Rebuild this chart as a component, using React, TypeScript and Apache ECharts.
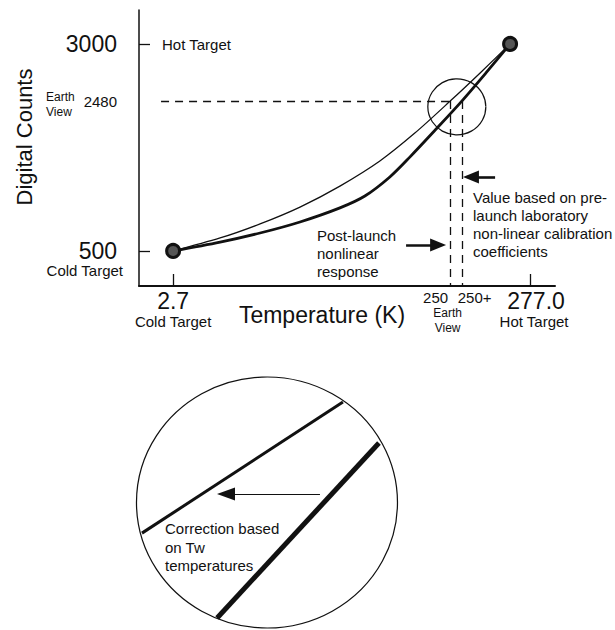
import React, { useEffect, useRef } from 'react';
import * as echarts from 'echarts';

const FONT = '"Liberation Sans", Arial, Helvetica, sans-serif';
const INK = '#111';

// Schematic diagram: both axes are in layout units (0–100 along each axis);
// the tick labels below give the physical meaning of each marked position.
const xTickPositions = [8.2, 74.9, 77.8, 94.0];
const xTickLabels = ['2.7', '250', '250+', '277.0'];
const xTickNotes = [['Cold Target'], ['Earth', 'View'], [], ['Hot Target']];
const xTickMarks = [8.2, 94.0];

const yTickPositions = [12.7, 67.0, 87.7];
const yTickLabels = ['500', '2480', '3000'];
const yTickMarks = [12.7, 87.7];

// Post-launch nonlinear response (thin curve)
const postLaunchCurve = [
  [8.2, 12.7], [19.5, 17.4], [29.1, 22.5], [38.7, 28.6], [48.3, 36.2],
  [57.9, 45.3], [66.3, 55.4], [74.8, 67.0], [82.0, 77.2], [89.2, 87.7],
];
// Pre-launch laboratory non-linear calibration (thick curve)
const preLaunchCurve = [
  [8.2, 12.7], [19.5, 15.9], [29.1, 19.2], [38.7, 23.2], [48.3, 28.3], [54.3, 32.6],
  [60.3, 39.5], [65.1, 46.7], [71.2, 56.5], [77.6, 67.0], [83.4, 77.2], [89.2, 87.7],
];
const targetPoints = [[8.2, 12.7], [89.2, 87.7]];
const magnifierPoint = [[76.4, 64.9]];

const earthViewLine = [[5.3, 67.0], [74.9, 67.0]];
const earthViewDrop = [[74.9, 67.0], [74.9, 0]];
const preLaunchDrop = [[77.8, 67.0], [77.8, 0]];
const postArrow = [[64.2, 14.9], [71.9, 14.9]];
const preArrow = [[85.6, 39.5], [79.8, 39.5]];

// Magnified inset (its own 0–100 layout units)
const insetPostLaunch = [[1.9, 37.8], [78.9, 90.0]];
const insetPreLaunch = [[30.7, 4.0], [92.7, 73.7]];
const insetCorrection = [[70.1, 53.4], [34.1, 53.4]];
const insetCenter = [[49.8, 50.0]];

const findIdx = (arr: number[], v: number) => arr.findIndex((a) => Math.abs(a - v) < 1e-6);

const xLabelStyles = [
  { num: 'big', note: 'note' },
  { num: 'midL', note: 'noteL' },
  { num: 'midR', note: 'noteL' },
  { num: 'bigR', note: 'noteR' },
];

export default function App() {
  const ref = useRef<HTMLDivElement>(null);
  useEffect(() => {
    if (!ref.current) return;
    const chart = echarts.init(ref.current, undefined, { renderer: 'svg' });
    const arrowLine = (pts: number[][], width: number, head: number[]) => ({
      silent: true,
      animation: false,
      symbol: ['none', 'triangle'],
      symbolSize: head,
      label: { show: false },
      emphasis: { disabled: true },
      lineStyle: { color: INK, width, type: 'solid', opacity: 1 },
      itemStyle: { color: INK },
      data: [[{ coord: pts[0] }, { coord: pts[1] }]],
    });
    const option: any = {
      animation: false,
      backgroundColor: '#fff',
      textStyle: { fontFamily: FONT, color: INK },
      grid: [
        { left: 139, top: 10, right: 60, bottom: 344, containLabel: false },
        { left: 137, top: 377, width: 261, height: 251, containLabel: false },
      ],
      xAxis: [
        {
          type: 'value', min: 0, max: 100, gridIndex: 0,
          name: 'Temperature (K)', nameLocation: 'middle', nameGap: 16, nameMoveOverlap: false,
          nameTextStyle: { fontSize: 23, fontFamily: FONT, color: INK, lineHeight: 26, padding: [0, 50, 0, 0] },
          axisLine: { show: true, onZero: false, lineStyle: { color: INK, width: 2 } },
          axisTick: { show: true, inside: true, length: 12, customValues: xTickMarks, lineStyle: { color: INK, width: 1.3 } },
          splitLine: { show: false },
          axisLabel: {
            show: true, margin: 3, customValues: xTickPositions, color: INK, fontFamily: FONT,
            formatter: (v: number) => {
              const i = findIdx(xTickPositions, v);
              if (i < 0) return '';
              const s = xLabelStyles[i];
              const parts = [`{${s.num}|${xTickLabels[i]}}`];
              xTickNotes[i].forEach((n) => parts.push(`{${s.note}|${n}}`));
              return parts.join('\n');
            },
            rich: {
              big: { fontSize: 23, lineHeight: 24, fontFamily: FONT, color: INK, align: 'center' },
              bigR: { fontSize: 23, lineHeight: 24, fontFamily: FONT, color: INK, align: 'center', padding: [0, 0, 0, 12] },
              note: { fontSize: 15, lineHeight: 17, fontFamily: FONT, color: INK, align: 'center' },
              noteR: { fontSize: 15, lineHeight: 17, fontFamily: FONT, color: INK, align: 'center', padding: [0, 0, 0, 8] },
              midL: { fontSize: 15, lineHeight: 16, fontFamily: FONT, color: INK, align: 'center', padding: [0, 30, 0, 0] },
              midR: { fontSize: 15, lineHeight: 16, fontFamily: FONT, color: INK, align: 'center', padding: [0, 0, 0, 24] },
              noteL: { fontSize: 12, lineHeight: 15, fontFamily: FONT, color: INK, align: 'center', padding: [0, 6, 0, 0] },
            },
          },
        },
        { type: 'value', min: 0, max: 100, gridIndex: 1, show: false },
      ],
      yAxis: [
        {
          type: 'value', min: 0, max: 100, gridIndex: 0,
          name: 'Digital Counts', nameLocation: 'middle', nameGap: 104, nameRotate: 90, nameMoveOverlap: false,
          nameTextStyle: { fontSize: 22, fontFamily: FONT, color: INK, padding: [0, 0, 0, 22] },
          axisLine: { show: true, onZero: false, lineStyle: { color: INK, width: 1.5 } },
          axisTick: { show: true, inside: true, length: 11, customValues: yTickMarks, lineStyle: { color: INK, width: 1.3 } },
          splitLine: { show: false },
          axisLabel: {
            show: true, margin: 22, customValues: yTickPositions, color: INK, fontFamily: FONT,
            formatter: (v: number) => {
              const i = findIdx(yTickPositions, v);
              if (i < 0) return '';
              return i === 1 ? `{mid|${yTickLabels[i]}}` : `{big|${yTickLabels[i]}}`;
            },
            rich: {
              big: { fontSize: 23, fontFamily: FONT, color: INK },
              mid: { fontSize: 15, fontFamily: FONT, color: INK },
            },
          },
        },
        { type: 'value', min: 0, max: 100, gridIndex: 1, show: false },
      ],
      series: [
        {
          type: 'line', name: 'Post-launch nonlinear response', xAxisIndex: 0, yAxisIndex: 0,
          data: postLaunchCurve, smooth: 0.3, showSymbol: false, symbol: 'none', silent: true,
          lineStyle: { color: INK, width: 1.3 }, z: 3,
          markLine: {
            silent: true, animation: false, symbol: ['none', 'none'], label: { show: false },
            emphasis: { disabled: true },
            lineStyle: { color: INK, width: 1.3, type: [8, 6], opacity: 1 },
            data: [
              [{ coord: earthViewLine[0] }, { coord: earthViewLine[1] }],
              [{ coord: earthViewDrop[0] }, { coord: earthViewDrop[1] }],
              [{ coord: preLaunchDrop[0] }, { coord: preLaunchDrop[1] }],
            ],
          },
        },
        {
          type: 'line', name: 'Pre-launch calibration', xAxisIndex: 0, yAxisIndex: 0,
          data: preLaunchCurve, smooth: 0.3, showSymbol: false, symbol: 'none', silent: true,
          lineStyle: { color: INK, width: 2.8 }, z: 3,
          markLine: arrowLine(postArrow, 2.6, [13, 16]),
        },
        {
          type: 'line', name: 'arrow2', xAxisIndex: 0, yAxisIndex: 0,
          data: [], silent: true, showSymbol: false,
          markLine: arrowLine(preArrow, 2.6, [13, 16]),
        },
        {
          type: 'scatter', name: 'Targets', xAxisIndex: 0, yAxisIndex: 0, data: targetPoints,
          symbolSize: 13, silent: true, z: 5,
          itemStyle: { color: '#555', borderColor: INK, borderWidth: 3, opacity: 1 },
        },
        {
          type: 'scatter', name: 'Magnifier', xAxisIndex: 0, yAxisIndex: 0, data: magnifierPoint,
          symbolSize: [58, 56], silent: true, z: 4,
          itemStyle: { color: 'rgba(0,0,0,0)', borderColor: INK, borderWidth: 1.2, opacity: 1 },
        },
        {
          type: 'line', name: 'Inset post-launch', xAxisIndex: 1, yAxisIndex: 1, data: insetPostLaunch,
          showSymbol: false, symbol: 'none', silent: true, lineStyle: { color: INK, width: 3 },
          markLine: arrowLine(insetCorrection, 1.2, [13, 18]),
        },
        {
          type: 'line', name: 'Inset pre-launch', xAxisIndex: 1, yAxisIndex: 1, data: insetPreLaunch,
          showSymbol: false, symbol: 'none', silent: true, lineStyle: { color: INK, width: 5 },
        },
        {
          type: 'scatter', name: 'Inset circle', xAxisIndex: 1, yAxisIndex: 1, data: insetCenter,
          symbolSize: [261, 251], silent: true, clip: false, z: 4,
          itemStyle: { color: 'rgba(0,0,0,0)', borderColor: INK, borderWidth: 1.2, opacity: 1 },
        },
      ],
      graphic: [
        { type: 'text', x: 162, y: 44, silent: true, style: { text: 'Hot Target', fontSize: 15, fontFamily: FONT, fill: INK, align: 'left', verticalAlign: 'middle' } },
        { type: 'text', x: 46, y: 104, silent: true, style: { text: 'Earth\nView', fontSize: 12, lineHeight: 15, fontFamily: FONT, fill: INK, align: 'left', verticalAlign: 'middle' } },
        { type: 'text', x: 123, y: 270, silent: true, style: { text: 'Cold Target', fontSize: 15, fontFamily: FONT, fill: INK, align: 'right', verticalAlign: 'middle' } },
        { type: 'text', x: 317, y: 253, silent: true, style: { text: 'Post-launch\nnonlinear\nresponse', fontSize: 15, lineHeight: 18, fontFamily: FONT, fill: INK, align: 'left', verticalAlign: 'middle' } },
        { type: 'text', x: 473, y: 224, silent: true, style: { text: 'Value based on pre-\nlaunch laboratory\nnon-linear calibration\ncoefficients', fontSize: 15, lineHeight: 18, fontFamily: FONT, fill: INK, align: 'left', verticalAlign: 'middle' } },
        { type: 'text', x: 165, y: 547, silent: true, style: { text: 'Correction based\non Tw\ntemperatures', fontSize: 15, lineHeight: 18.5, fontFamily: FONT, fill: INK, align: 'left', verticalAlign: 'middle' } },
      ],
    };
    chart.setOption(option);
    return () => chart.dispose();
  }, []);
  return <div ref={ref} style={{ position: 'absolute', left: 0, top: 0, width: 615, height: 630 }} />;
}
